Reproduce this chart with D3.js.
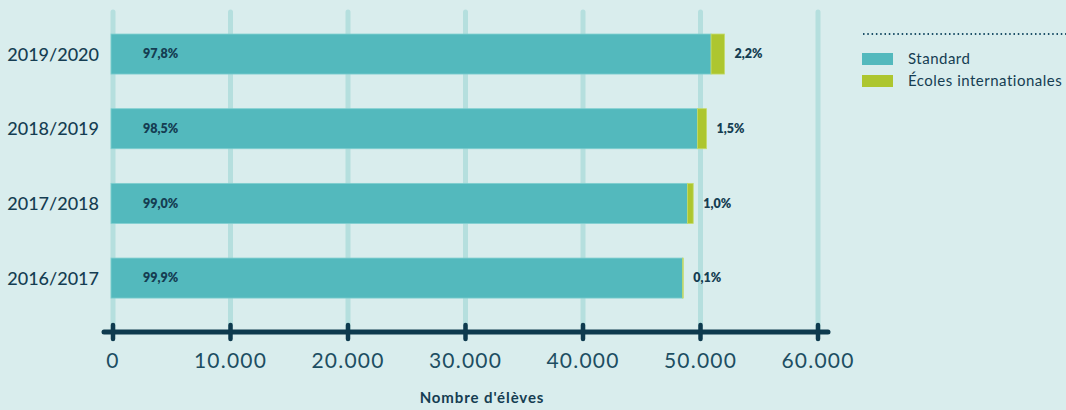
<!DOCTYPE html>
<html><head><meta charset="utf-8">
<script src="https://d3js.org/d3.v7.min.js"></script>
<style>body{margin:0;background:#d9eded;}svg{display:block;}</style>
</head><body>
<script>
const categories = ["2019/2020","2018/2019","2017/2018","2016/2017"];
const standard = [50900, 49750, 48890, 48480];
const international = [1140, 760, 490, 50];
const pctStandard = ["97,8%","98,5%","99,0%","99,9%"];
const pctInternational = ["2,2%","1,5%","1,0%","0,1%"];
const xTicks = [0,10000,20000,30000,40000,50000,60000];
const xTickLabels = ["0","10.000","20.000","30.000","40.000","50.000","60.000"];
const seriesNames = ["Standard","Écoles internationales"];
const axisTitle = "Nombre d'élèves";

const W=1066,H=410;
const dark="#153d52", teal="#53b9bd", green="#adc62f", grid="#b5dfde";
const svg=d3.select("body").append("svg").attr("width",W).attr("height",H);
svg.append("rect").attr("width",W).attr("height",H).attr("fill","#d9eded");
const font="Lato, 'Open Sans', sans-serif";

const x=d3.scaleLinear().domain([0,60000]).range([113,818]);
const y=d3.scaleBand().domain(categories).range([16.7,315.4]).paddingInner(0.464).paddingOuter(0.232);

// gridlines
svg.append("g").selectAll("line").data(xTicks).join("line")
 .attr("x1",d=>x(d)).attr("x2",d=>x(d)).attr("y1",12).attr("y2",330)
 .attr("stroke",grid).attr("stroke-width",5).attr("stroke-linecap","round");

// bars
const g=svg.append("g");
categories.forEach((c,i)=>{
  const cy=y(c)+y.bandwidth()/2;
  g.append("rect").attr("x",x(0)-2).attr("y",y(c)).attr("width",x(standard[i])-x(0)+2).attr("height",y.bandwidth())
   .attr("fill",teal).attr("stroke","#7fcfd0").attr("stroke-width",0.8);
  g.append("rect").attr("x",x(standard[i])).attr("y",y(c)).attr("width",x(standard[i]+international[i])-x(standard[i])).attr("height",y.bandwidth())
   .attr("fill",green).attr("stroke","#c4db6a").attr("stroke-width",0.8);
  g.append("text").attr("x",143).attr("y",cy).attr("dy","0.35em")
   .attr("font-family",font).attr("font-weight",800).attr("font-size",12.5).attr("fill",dark).text(pctStandard[i]);
  g.append("text").attr("x",x(standard[i]+international[i])+10).attr("y",cy).attr("dy","0.35em")
   .attr("font-family",font).attr("font-weight",800).attr("font-size",12.5).attr("fill",dark).text(pctInternational[i]);
  g.append("text").attr("x",99).attr("y",cy).attr("dy","0.36em").attr("text-anchor","end")
   .attr("font-family",font).attr("font-weight",500).attr("font-size",18).attr("fill",dark).text(c);
});

// axis
const ay=332;
svg.append("line").attr("x1",104).attr("x2",828).attr("y1",ay).attr("y2",ay)
 .attr("stroke","#0e3a4e").attr("stroke-width",5).attr("stroke-linecap","round");
svg.append("g").selectAll("line").data(xTicks).join("line")
 .attr("x1",d=>x(d)).attr("x2",d=>x(d)).attr("y1",ay-7).attr("y2",ay+7)
 .attr("stroke","#0e3a4e").attr("stroke-width",4.5).attr("stroke-linecap","round");
svg.append("g").selectAll("text").data(xTicks).join("text")
 .attr("x",d=>x(d)).attr("y",368).attr("text-anchor","middle")
 .attr("font-family",font).attr("font-size",21).attr("fill","#1d4e62").attr("letter-spacing",1.2)
 .text((d,i)=>xTickLabels[i]);
svg.append("text").attr("x",482).attr("y",403).attr("text-anchor","middle")
 .attr("font-family",font).attr("font-weight",700).attr("font-size",15).attr("letter-spacing",0.9).attr("fill",dark).text(axisTitle);

// legend
svg.append("line").attr("x1",863).attr("x2",1066).attr("y1",34).attr("y2",34)
 .attr("stroke","#1d5068").attr("stroke-width",2).attr("stroke-dasharray","1.5,2.8");
const lg=svg.append("g");
[teal,green].forEach((col,i)=>{
  lg.append("rect").attr("x",862).attr("y",53+i*22).attr("width",31).attr("height",12).attr("fill",col);
  lg.append("text").attr("x",908).attr("y",59+i*22).attr("dy","0.35em")
   .attr("font-family",font).attr("font-size",15).attr("letter-spacing",0.5).attr("fill",dark).text(seriesNames[i]);
});
</script>
</body></html>
